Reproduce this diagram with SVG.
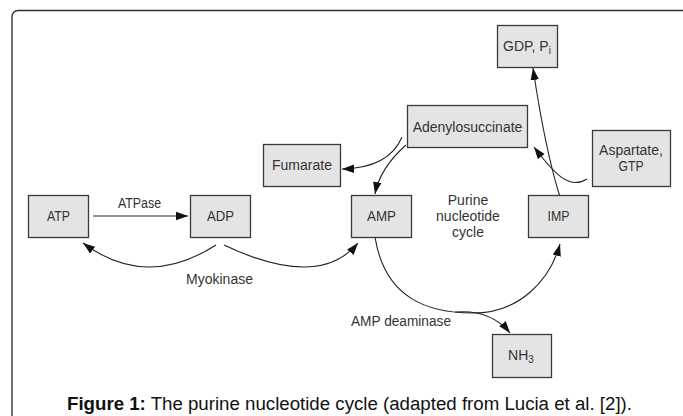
<svg xmlns="http://www.w3.org/2000/svg" width="683" height="416" viewBox="0 0 683 416">
<style>
.box{fill:#e4e4e4;stroke:#3a3a3a;stroke-width:1.3}
.lbl{font-family:"Liberation Sans",Arial,sans-serif;font-size:14px;fill:#333;text-anchor:middle}
.con{fill:none;stroke:#222;stroke-width:1.1;marker-end:url(#ah)}
.cap{font-family:"Liberation Sans",Arial,sans-serif;font-size:18px;fill:#111}
</style>
<defs>
<marker id="ah" markerUnits="userSpaceOnUse" markerWidth="14" markerHeight="10" refX="12" refY="5" orient="auto">
<path d="M0,0.8 L12,5 L0,9.2 Z" fill="#111"/>
</marker>
</defs>
<rect x="12" y="10.5" width="700" height="440" rx="6" fill="#fff" stroke="#333" stroke-width="1.4"/>
<g id="connectors">
<path class="con" d="M93,216 L188,216"/>
<path class="con" d="M216,245 Q146,290 83,243"/>
<path class="con" d="M224,245 Q319,290 358,243"/>
<path class="con" d="M402,137 Q389,168 342,169"/>
<path class="con" d="M406,145 Q380,168 375,194"/>
<path class="con" d="M375,237 C385,300 430,313 473,313 C520,313 550,280 560,244"/>
<path class="con" d="M455,312 C480,310 498,318 510,333"/>
<path class="con" d="M560,197 Q545,149 533,68"/>
<path class="con" d="M587,179 C570,190 555,175 534,147"/>
</g>
<g id="ATP"><rect class="box" x="28.5" y="195.5" width="60" height="42"/><text class="lbl" x="58.5" y="221" textLength="23" lengthAdjust="spacingAndGlyphs">ATP</text></g>
<g id="ADP"><rect class="box" x="190.5" y="195.5" width="60" height="42"/><text class="lbl" x="220.5" y="221" textLength="27" lengthAdjust="spacingAndGlyphs">ADP</text></g>
<g id="AMP"><rect class="box" x="351.5" y="195.5" width="60" height="42"/><text class="lbl" x="381.5" y="221" textLength="29" lengthAdjust="spacingAndGlyphs">AMP</text></g>
<g id="IMP"><rect class="box" x="528.5" y="195.5" width="60" height="42"/><text class="lbl" x="558.5" y="221" textLength="22" lengthAdjust="spacingAndGlyphs">IMP</text></g>
<g id="Fumarate"><rect class="box" x="263.5" y="144.5" width="77" height="42"/><text class="lbl" x="302" y="170">Fumarate</text></g>
<g id="Adenylosuccinate"><rect class="box" x="407.5" y="105.5" width="120" height="42"/><text class="lbl" x="467.5" y="131.5">Adenylosuccinate</text></g>
<g id="GDP"><rect class="box" x="497.5" y="25.5" width="60" height="42"/><text class="lbl" x="527" y="51">GDP, P<tspan font-size="10" dy="3">i</tspan></text></g>
<g id="Aspartate"><rect class="box" x="592.5" y="130.5" width="78" height="56"/><text class="lbl" x="631" y="155">Aspartate,</text><text class="lbl" x="631" y="171" textLength="25" lengthAdjust="spacingAndGlyphs">GTP</text></g>
<g id="NH3"><rect class="box" x="492.5" y="334.5" width="59" height="43"/><text class="lbl" x="521" y="360">NH<tspan font-size="10" dy="3">3</tspan></text></g>
<g id="labels">
<text class="lbl" x="139.5" y="208" textLength="43" lengthAdjust="spacingAndGlyphs">ATPase</text>
<text class="lbl" x="219.5" y="284">Myokinase</text>
<text class="lbl" x="401" y="326" textLength="100" lengthAdjust="spacingAndGlyphs">AMP deaminase</text>
<text class="lbl" x="468" y="205">Purine</text>
<text class="lbl" x="468" y="221">nucleotide</text>
<text class="lbl" x="468" y="237">cycle</text>
</g>
<text class="cap" x="67" y="410" textLength="565" lengthAdjust="spacingAndGlyphs"><tspan font-weight="bold">Figure 1:</tspan> The purine nucleotide cycle (adapted from Lucia et al. [2]).</text>
</svg>
